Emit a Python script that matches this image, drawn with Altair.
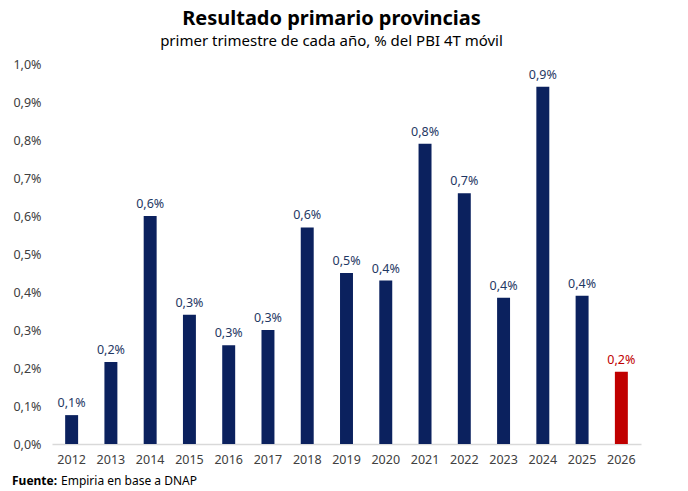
import altair as alt
import pandas as pd

years = ["2012", "2013", "2014", "2015", "2016", "2017", "2018", "2019",
         "2020", "2021", "2022", "2023", "2024", "2025", "2026"]
values = [0.076, 0.216, 0.60, 0.34, 0.26, 0.30, 0.57, 0.45,
          0.43, 0.79, 0.66, 0.385, 0.94, 0.39, 0.19]
labels = ["0,1%", "0,2%", "0,6%", "0,3%", "0,3%", "0,3%", "0,6%", "0,5%",
          "0,4%", "0,8%", "0,7%", "0,4%", "0,9%", "0,4%", "0,2%"]
highlight = [False] * 14 + [True]
y_ticks = [0.0, 0.1, 0.2, 0.3, 0.4, 0.5, 0.6, 0.7, 0.8, 0.9, 1.0]

df = pd.DataFrame({"year": years, "value": values, "label": labels, "hl": highlight})

FONT = "Noto Sans"
NAVY = "#0B215E"
RED = "#C00000"
W, H = 589, 380

color_scale = alt.Scale(domain=[False, True], range=[NAVY, RED])
text_scale = alt.Scale(domain=[False, True], range=["#1F3864", RED])

x_enc = alt.X("year:N", sort=years, title=None,
              scale=alt.Scale(paddingInner=0.67, paddingOuter=0.335),
              axis=alt.Axis(labelAngle=0, ticks=False, grid=False, domainColor="#D9D9D9",
                            domainWidth=1.5, labelFontSize=12.5, labelColor="#404040",
                            labelFont=FONT, labelPadding=9))
y_enc = alt.Y("value:Q", title=None,
              scale=alt.Scale(domain=[0, 1.0], nice=False),
              axis=alt.Axis(values=y_ticks, grid=False, domain=False, ticks=False,
                            labelOverlap=False,
                            labelExpr="replace(format(datum.value, '.1f'), '.', ',') + '%'",
                            labelFontSize=12.5, labelColor="#404040", labelFont=FONT,
                            labelPadding=11))

base = alt.Chart(df).encode(x=x_enc, y=y_enc)

bars = base.mark_bar().encode(
    color=alt.Color("hl:N", scale=color_scale, legend=None),
)

text = base.mark_text(baseline="bottom", dy=-5, fontSize=12.5, font=FONT).encode(
    text="label:N",
    color=alt.Color("hl:N", scale=text_scale, legend=None),
)

src = pd.DataFrame({"a": ["Fuente:"], "b": ["Empiria en base a DNAP"]})
foot1 = alt.Chart(src).mark_text(align="left", baseline="middle", fontSize=12,
                                 fontWeight="bold", font=FONT, color="#000000").encode(
    x=alt.value(-40), y=alt.value(H + 37), text="a:N")
foot2 = alt.Chart(src).mark_text(align="left", baseline="middle", fontSize=12,
                                 font=FONT, color="#000000").encode(
    x=alt.value(9), y=alt.value(H + 37), text="b:N")

chart = alt.layer(bars, text, foot1, foot2).resolve_scale(color="independent").properties(
    width=W, height=H,
    background="white",
    autosize=alt.AutoSizeParams(type="none"),
    padding={"left": 52, "top": 64, "right": 47, "bottom": 47},
    title=alt.Title("Resultado primario provincias",
                    subtitle="primer trimestre de cada año, % del PBI 4T móvil",
                    fontSize=20, subtitleFontSize=15, font=FONT, subtitleFont=FONT,
                    color="#000000", subtitleColor="#000000", anchor="middle",
                    dx=-15, offset=9, subtitlePadding=5, fontWeight="bold"),
).configure_view(strokeWidth=0, stroke="transparent").configure_axis(grid=False)

chart.save("out.html", embed_options={"renderer": "svg", "actions": False})
